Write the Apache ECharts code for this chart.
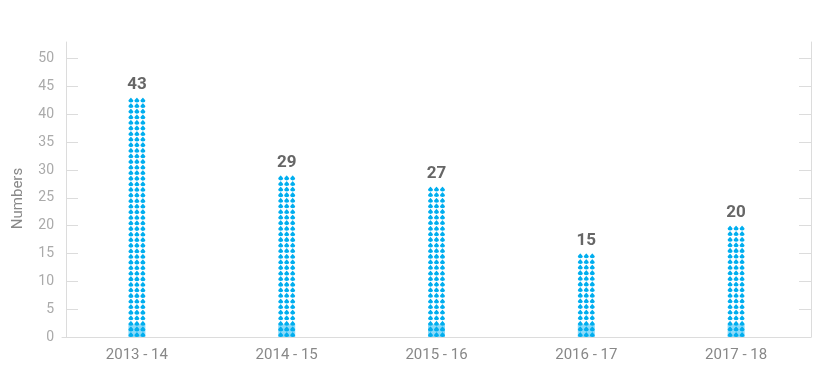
<!DOCTYPE html>
<html>
<head>
<meta charset="utf-8">
<script src="https://cdn.jsdelivr.net/npm/echarts@6/dist/echarts.min.js"></script>
<style>html,body{margin:0;padding:0;background:#fff}#c{width:830px;height:392px}</style>
</head>
<body>
<div id="c"></div>
<script>
const categories = ['2013 - 14', '2014 - 15', '2015 - 16', '2016 - 17', '2017 - 18'];
const values = [43, 29, 27, 15, 20];
const baseBand = [2.3, 2.3, 2.3, 2.3, 2.3];
const yTicks = [0, 5, 10, 15, 20, 25, 30, 35, 40, 45, 50];

const drop = 'M5 0 C5 0 0 6 0 8.5 A5 5 0 0 0 10 8.5 C10 6 5 0 5 0 Z';
const tri = 'path://' + drop + ' M17 0 C17 0 12 6 12 8.5 A5 5 0 0 0 22 8.5 C22 6 17 0 17 0 Z M29 0 C29 0 24 6 24 8.5 A5 5 0 0 0 34 8.5 C34 6 29 0 29 0 Z';

const chart = echarts.init(document.getElementById('c'), null, {renderer: 'canvas'});
const axisCol = '#dcdcdc';
const font = 'Roboto';
chart.setOption({
  animation: false,
  textStyle: {fontFamily: font},
  grid: {left: 62, right: 19, top: 42, bottom: 55},
  xAxis: {
    type: 'category',
    data: categories,
    axisLine: {lineStyle: {color: axisCol}},
    axisTick: {show: false},
    axisLabel: {color: '#888', fontSize: 15, margin: 11, fontFamily: font}
  },
  yAxis: [{
    type: 'value',
    min: 0, max: 53, interval: 5,
    offset: -4,
    name: 'Numbers',
    nameLocation: 'middle',
    nameGap: 40,
    nameTextStyle: {color: '#888', fontSize: 15, fontFamily: font, padding: [0, 18, 0, 0]},
    axisLine: {show: true, lineStyle: {color: axisCol}},
    axisTick: {show: true, inside: true, length: 12, lineStyle: {color: axisCol}, customValues: yTicks},
    axisLabel: {color: '#aaa', fontSize: 14, margin: 12, fontFamily: font, customValues: yTicks},
    splitLine: {show: false}
  }, {
    type: 'value',
    position: 'right',
    min: 0, max: 53, interval: 5,
    axisLine: {show: true, lineStyle: {color: axisCol}},
    axisTick: {show: true, inside: true, length: 12, lineStyle: {color: axisCol}, customValues: yTicks},
    axisLabel: {show: false},
    splitLine: {show: false}
  }],
  series: [{
    type: 'bar',
    yAxisIndex: 0,
    barWidth: 17,
    barGap: '-100%',
    z: 1,
    silent: true,
    itemStyle: {color: 'rgba(0,174,239,0.45)'},
    data: baseBand
  }, {
    type: 'pictorialBar',
    yAxisIndex: 0,
    symbol: tri,
    symbolSize: [17, 4.8],
    symbolPosition: 'start',
    barWidth: 17,
    barGap: '-100%',
    z: 3,
    itemStyle: {color: '#00aeef'},
    label: {show: true, position: 'top', distance: 4, color: '#666', fontSize: 17, fontWeight: 'bold', fontFamily: font},
    data: values.map(v => ({value: v, symbolRepeat: v, symbolBoundingData: v}))
  }]
});
</script>
</body>
</html>
